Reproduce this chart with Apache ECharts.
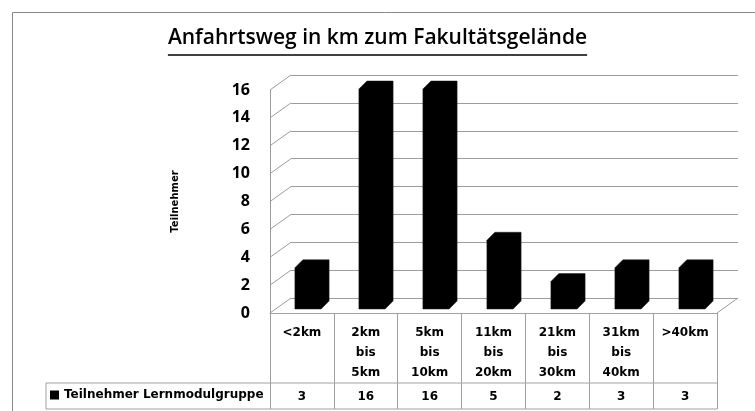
<!DOCTYPE html>
<html>
<head>
<meta charset="utf-8">
<script src="https://cdn.jsdelivr.net/npm/echarts@6.0.0/dist/echarts.min.js"></script>
<style>
  html, body { margin: 0; padding: 0; background: #fff; }
  #main { width: 755px; height: 411px; }
</style>
</head>
<body>
<div id="main"></div>
<script>
// 数据
const titleText = 'Anfahrtsweg in km zum Fakultätsgelände';
const seriesName = 'Teilnehmer Lernmodulgruppe';
const yName = 'Teilnehmer';
const categories = ['<2km', '2km bis 5km', '5km bis 10km', '11km bis 20km', '21km bis 30km', '31km bis 40km', '>40km'];
const values = [3, 16, 16, 5, 2, 3, 3];
const yTicks = [0, 2, 4, 6, 8, 10, 12, 14, 16];

// 样式
const gridColor = '#9c9c9c';
const tableColor = '#a0a0a0';
const depthX = 21;
const depthY = 15;
const tableFont = 'bold 12px "DejaVu Sans"';
const titleFont = '600 21px "Open Sans"';

// 标题下划线宽度
let ctx = document.createElement('canvas').getContext('2d');
ctx.font = titleFont;
let titleWidth = ctx.measureText(titleText).width;

let chart = echarts.init(document.getElementById('main'));

chart.setOption({
  animation: false,
  graphic: [
    {
      type: 'rect',
      z: -10,
      shape: { x: 12.5, y: 12.5, width: 800, height: 500 },
      style: { fill: 'none', stroke: '#888', lineWidth: 1 }
    },
    {
      type: 'text',
      left: 'center',
      top: 28,
      style: { text: titleText, font: titleFont, fill: '#000' }
    },
    {
      type: 'line',
      shape: { x1: 377.5 - titleWidth / 2, y1: 55, x2: 377.5 + titleWidth / 2, y2: 55 },
      style: { stroke: '#000', lineWidth: 1.5 }
    }
  ],
  legend: {
    data: [seriesName],
    left: 50,
    top: 389,
    padding: 0,
    icon: 'rect',
    itemWidth: 9,
    itemHeight: 9,
    selectedMode: false,
    textStyle: { fontFamily: 'DejaVu Sans', fontWeight: 'bold', fontSize: 12, color: '#000' }
  },
  grid: [
    // 后墙
    { left: 291, top: 75, width: 447, height: 223 },
    // 前面（坐标轴标签和表格）
    { left: 270, top: 90, width: 447, height: 223 },
    // 柱子正面
    { left: 276, top: 89, width: 448, height: 220 }
  ],
  xAxis: [
    { gridIndex: 0, type: 'category', data: categories, show: false },
    {
      gridIndex: 1,
      type: 'category',
      data: categories,
      axisLine: { show: true, lineStyle: { color: tableColor, width: 1 } },
      axisTick: { show: true, interval: 0, alignWithLabel: false, length: 96, lineStyle: { color: tableColor, width: 1 } },
      axisLabel: {
        interval: 0,
        margin: 10,
        lineHeight: 20,
        color: '#000',
        fontFamily: 'DejaVu Sans',
        fontWeight: 'bold',
        fontSize: 12,
        formatter: s => s.split(' ').join('\n')
      }
    },
    { gridIndex: 2, type: 'category', data: categories, show: false }
  ],
  yAxis: [
    {
      gridIndex: 0,
      type: 'value',
      min: 0,
      max: 16,
      interval: 2,
      axisLine: { show: false },
      axisTick: { show: false },
      axisLabel: { show: false },
      splitLine: { lineStyle: { color: gridColor, width: 1 } }
    },
    {
      gridIndex: 1,
      type: 'value',
      min: 0,
      max: 16,
      interval: 2,
      name: yName,
      nameLocation: 'middle',
      nameRotate: 90,
      nameGap: 90,
      nameTextStyle: { fontFamily: 'DejaVu Sans', fontWeight: 'bold', fontSize: 10, color: '#000' },
      axisLine: { show: true, lineStyle: { color: gridColor, width: 1 } },
      axisTick: { show: false },
      splitLine: { show: false },
      axisLabel: {
        margin: 20,
        padding: [6, 0, 0, 0],
        color: '#000',
        fontFamily: 'Open Sans',
        fontWeight: 'bold',
        fontSize: 16
      }
    },
    { gridIndex: 2, type: 'value', min: 0, max: 16, show: false }
  ],
  series: [
    // 侧墙斜线和底面右边
    {
      type: 'custom',
      name: 'walls',
      xAxisIndex: 1,
      yAxisIndex: 1,
      silent: true,
      data: yTicks.map(v => [0, v]),
      renderItem: (params, api) => {
        let p = api.coord([0, api.value(1)]);
        let half = api.size([1, 0])[0] / 2;
        let x0 = p[0] - half;
        let lineStyle = { stroke: gridColor, lineWidth: 1 };
        let children = [{
          type: 'line',
          shape: { x1: x0, y1: p[1], x2: x0 + depthX, y2: p[1] - depthY },
          style: lineStyle
        }];
        if (params.dataIndex === 0) {
          let xr = api.coord([categories.length - 1, 0])[0] + half;
          children.push({
            type: 'line',
            shape: { x1: xr, y1: p[1], x2: xr + depthX, y2: p[1] - depthY },
            style: lineStyle
          });
        }
        return { type: 'group', children: children };
      }
    },
    // 柱子
    {
      type: 'custom',
      name: seriesName,
      xAxisIndex: 2,
      yAxisIndex: 2,
      itemStyle: { color: '#000' },
      data: values.map((v, i) => [i, v]),
      renderItem: (params, api) => {
        let base = api.coord([api.value(0), 0]);
        let top = api.coord([api.value(0), api.value(1)]);
        let w = api.size([1, 0])[0] * 0.41;
        let d = 8;
        let L = base[0] - w / 2;
        let R = base[0] + w / 2;
        let B = base[1];
        let T = top[1];
        return {
          type: 'polygon',
          shape: { points: [[L, B], [L, T], [L + d, T - d], [R + d, T - d], [R + d, B - d], [R, B]] },
          style: api.style({ fill: '#000', stroke: '#222', lineWidth: 0.5 })
        };
      }
    },
    // 数据表
    {
      type: 'custom',
      name: 'table',
      xAxisIndex: 1,
      yAxisIndex: 1,
      silent: true,
      data: values.map((v, i) => [i, v]),
      renderItem: (params, api) => {
        let p = api.coord([api.value(0), 0]);
        let half = api.size([1, 0])[0] / 2;
        let lineStyle = { stroke: tableColor, lineWidth: 1 };
        let children = [
          { type: 'line', shape: { x1: p[0] - half, y1: p[1] + 70, x2: p[0] + half, y2: p[1] + 70 }, style: lineStyle },
          { type: 'line', shape: { x1: p[0] - half, y1: p[1] + 96, x2: p[0] + half, y2: p[1] + 96 }, style: lineStyle },
          {
            type: 'text',
            x: p[0],
            y: p[1] + 84,
            style: { text: String(api.value(1)), font: tableFont, fill: '#000', align: 'center', verticalAlign: 'middle' }
          }
        ];
        if (params.dataIndex === 0) {
          let xl = 46;
          children.push(
            { type: 'line', shape: { x1: xl, y1: p[1] + 70, x2: p[0] - half, y2: p[1] + 70 }, style: lineStyle },
            { type: 'line', shape: { x1: xl, y1: p[1] + 96, x2: p[0] - half, y2: p[1] + 96 }, style: lineStyle },
            { type: 'line', shape: { x1: xl, y1: p[1] + 70, x2: xl, y2: p[1] + 96 }, style: lineStyle }
          );
        }
        return { type: 'group', children: children };
      }
    }
  ]
});
</script>
</body>
</html>
